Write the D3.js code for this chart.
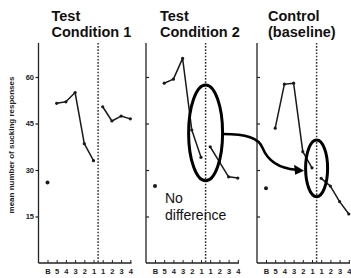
<!DOCTYPE html>
<html>
<head>
<meta charset="utf-8">
<script src="https://cdn.jsdelivr.net/npm/d3@7"></script>
<style>
    body { margin: 0; background: #fff; }
    text { font-family: "Liberation Sans", Arial, sans-serif; }
</style>
</head>
<body>
<div id="chart"></div>
<script>
// data
var xLabels = ["B", "5", "4", "3", "2", "1", "1", "2", "3", "4"];
var yTicks = [15, 30, 45, 60];
var titles = [["Test", "Condition 1"], ["Test", "Condition 2"], ["Control", "(baseline)"]];
var yLabel = "mean number of sucking responses";

var baselinePoint = [26, 24.8, 24.1];
var preTest1 = [51.5, 52, 55, 38.5, 33];
var postTest1 = [50.4, 45.8, 47.4, 46.5];
var preTest2 = [58, 59.3, 66, 42.9, 34.1];
var postTest2 = [37.5, 32.6, 27.8, 27.4];
var preControl = [43.5, 57.7, 58, 35.9, 30.7];
var postControl = [27.3, 24.8, 19.8, 15.8];

var pre = [preTest1, preTest2, preControl];
var post = [postTest1, postTest2, postControl];

var width = 351, height = 278;
var panelX = [38.5, 146, 257];
var titleDx = [13, 14, 11];
var axisW = 93;
var yTop = 71;

var svg = d3.select("#chart").append("svg")
    .attr("width", width)
    .attr("height", height);

var y = d3.scaleLinear().domain([0, 60]).range([263, 77]);
var x = d3.scaleLinear().domain([0, 9]).range([9, 91.8]);

var line = d3.line()
    .x(function(d) { return x(d.i); })
    .y(function(d) { return y(d.v); });

panelX.forEach(function(px, p) {
    var g = svg.append("g").attr("transform", "translate(" + px + ",0)");

    // title
    var t = g.append("text")
        .attr("x", titleDx[p]).attr("y", 21)
        .attr("font-size", 14.5).attr("font-weight", "bold").attr("fill", "#111");
    t.append("tspan").text(titles[p][0]);
    t.append("tspan").attr("x", titleDx[p]).attr("dy", 16).text(titles[p][1]);

    // axes lines
    g.append("line")
        .attr("x1", 0).attr("x2", 0)
        .attr("y1", y(0)).attr("y2", y(yTop))
        .attr("stroke", "#222").attr("stroke-width", 1.3);
    g.append("line")
        .attr("x1", 0).attr("x2", axisW)
        .attr("y1", y(0)).attr("y2", y(0))
        .attr("stroke", "#222").attr("stroke-width", 1.3);

    var yAxis = d3.axisLeft(y)
        .tickValues(yTicks)
        .tickSizeInner(p == 0 ? 3 : -3)
        .tickSizeOuter(0)
        .tickPadding(1.5)
        .tickFormat(function(d) { return p == 0 ? d : ""; });
    g.append("g")
        .call(yAxis)
        .attr("font-size", 7.5).attr("font-weight", "bold")
        .attr("font-family", "'Liberation Sans', Arial, sans-serif")
        .call(function(a) {
            a.select(".domain").remove();
            a.selectAll("line").attr("stroke", "#222").attr("stroke-width", 1.2);
            a.selectAll("text").attr("fill", "#222");
        });

    var xAxis = d3.axisBottom(x)
        .tickValues(d3.range(10))
        .tickFormat(function(d) { return xLabels[d]; })
        .tickSizeInner(-3)
        .tickSizeOuter(0)
        .tickPadding(6);
    g.append("g")
        .attr("transform", "translate(0," + y(0) + ")")
        .call(xAxis)
        .attr("font-size", 7.5).attr("font-weight", "bold")
        .attr("font-family", "'Liberation Sans', Arial, sans-serif")
        .call(function(a) {
            a.select(".domain").remove();
            a.selectAll("line").attr("stroke", "#222").attr("stroke-width", 1);
            a.selectAll("text").attr("fill", "#222");
        });

    // dotted divider between the two phases
    g.append("line")
        .attr("x1", x(5.5)).attr("x2", x(5.5))
        .attr("y1", y(yTop)).attr("y2", y(0))
        .attr("stroke", "#333").attr("stroke-width", 1.5)
        .attr("stroke-dasharray", "1.6,1.6");

    var preData = pre[p].map(function(v, k) { return {i: k + 1, v: v}; });
    var postData = post[p].map(function(v, k) { return {i: k + 6, v: v}; });

    [preData, postData].forEach(function(seg) {
        g.append("path")
            .datum(seg)
            .attr("d", line)
            .attr("fill", "none")
            .attr("stroke", "#1a1a1a")
            .attr("stroke-width", 1.5)
            .attr("stroke-linejoin", "round");
        g.selectAll(null)
            .data(seg)
            .enter().append("circle")
            .attr("r", 1.6)
            .attr("cx", function(d) { return x(d.i); })
            .attr("cy", function(d) { return y(d.v); })
            .attr("fill", "#1a1a1a");
    });

    g.append("circle")
        .attr("r", 2)
        .attr("cx", x(0))
        .attr("cy", y(baselinePoint[p]))
        .attr("fill", "#1a1a1a");

    if (p == 0) {
        g.append("text")
            .attr("transform", "translate(" + (14 - px) + ",145) rotate(-90)")
            .attr("text-anchor", "middle")
            .attr("font-size", 8).attr("font-weight", "bold")
            .attr("fill", "#222")
            .text(yLabel);
    }
});

// annotations: ellipses + arrow
var ell1 = {panel: 1, lo: 26.5, hi: 57.4, rx: 17};
var ell2 = {panel: 2, lo: 21.4, hi: 39.7, rx: 11};
[ell1, ell2].forEach(function(e) {
    e.cx = panelX[e.panel] + x(5.5);
    e.cy = (y(e.lo) + y(e.hi)) / 2;
    e.ry = (y(e.lo) - y(e.hi)) / 2;
    svg.append("ellipse")
        .attr("cx", e.cx).attr("cy", e.cy)
        .attr("rx", e.rx).attr("ry", e.ry)
        .attr("fill", "none")
        .attr("stroke", "#000")
        .attr("stroke-width", 3);
});

var sx = ell1.cx + ell1.rx, sy = ell1.cy + 1;
var ex = ell2.cx - ell2.rx - 1.5, ey = ell2.cy + 2.5;
svg.append("path")
    .attr("d", "M" + sx + "," + sy +
        " C" + (sx + 24) + "," + (sy) + " " + (sx + 36) + "," + (sy + 4) + " " + (sx + 40) + "," + (sy + 14) +
        " C" + (sx + 44) + "," + (sy + 24) + " " + (sx + 52) + "," + (ey - 3) + " " + (ex - 8) + "," + (ey - 1))
    .attr("fill", "none")
    .attr("stroke", "#000")
    .attr("stroke-width", 2.5);
svg.append("path")
    .attr("d", "M" + ex + "," + ey + " L" + (ex - 10) + "," + (ey - 6) + " L" + (ex - 9) + "," + (ey + 4) + "Z")
    .attr("fill", "#000");

var note = svg.append("text")
    .attr("x", 165).attr("y", 203)
    .attr("font-size", 14).attr("fill", "#111");
note.append("tspan").text("No");
note.append("tspan").attr("x", 165).attr("dy", 16.5).text("difference");
</script>
</body>
</html>
